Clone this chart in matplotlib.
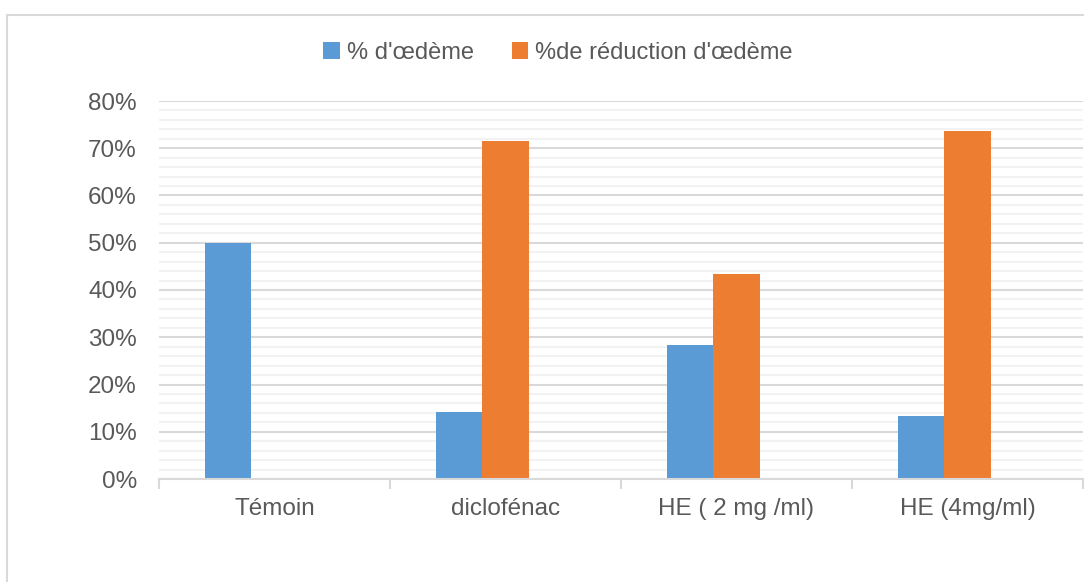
import matplotlib.pyplot as plt
from matplotlib.patches import Rectangle
from matplotlib.ticker import MultipleLocator, FuncFormatter
import numpy as np

plt.rcParams['font.family'] = ['Liberation Sans', 'DejaVu Sans']

categories = ["Témoin", "diclofénac", "HE ( 2 mg /ml)", "HE (4mg/ml)"]
oedeme = [0.50, 0.142, 0.284, 0.133]
reduction = [0.0, 0.715, 0.434, 0.737]
series_names = ["% d'œdème", "%de réduction d'œdème"]

blue = "#5b9bd5"
orange = "#ed7d31"
txt = "#595959"

fig = plt.figure(figsize=(10.84, 5.82), dpi=100)
# chart area border (runs off the right and bottom edges)
fig.patches.append(Rectangle((7 / 1084, -0.1), 1.2, 1.1 - 15 / 582,
                             transform=fig.transFigure, fill=False,
                             edgecolor="#d9d9d9", linewidth=1.5))

ax = fig.add_axes([159 / 1084, 1 - 479 / 582, (1083 - 159) / 1084, (479 - 101) / 582])

x = np.arange(len(categories))
w = 0.2
ax.bar(x - w, oedeme, width=w, color=blue, label=series_names[0], zorder=3)
ax.bar(x, reduction, width=w, color=orange, label=series_names[1], zorder=3)

ax.set_xlim(-0.5, len(categories) - 0.5)
ax.set_ylim(0, 0.8)
ax.yaxis.set_major_locator(MultipleLocator(0.1))
ax.yaxis.set_minor_locator(MultipleLocator(0.02))
ax.yaxis.set_major_formatter(FuncFormatter(lambda v, p: f"{v*100:.0f}%"))
ax.grid(axis="y", which="minor", color="#f2f2f2", linewidth=1.5, zorder=0)
ax.grid(axis="y", which="major", color="#d9d9d9", linewidth=1.5, zorder=1)

for s in ["top", "right", "left"]:
    ax.spines[s].set_visible(False)
ax.spines["bottom"].set_color("#d9d9d9")
ax.spines["bottom"].set_linewidth(1.5)
ax.spines["bottom"].set_zorder(4)

ax.set_xticks(x)
ax.set_xticklabels(categories)
ax.set_xticks(np.arange(len(categories) + 1) - 0.5, minor=True)
ax.tick_params(axis="x", which="major", length=0, labelsize=17.5, labelcolor=txt, pad=14)
ax.tick_params(axis="x", which="minor", length=7, width=1.5, color="#d9d9d9")
ax.tick_params(axis="y", which="both", length=0, labelsize=17.5, labelcolor=txt, pad=16)

fig.legend(loc="center", bbox_to_anchor=(558 / 1084, 1 - 53 / 582), ncol=2, frameon=False,
           fontsize=17, labelcolor=txt, handlelength=0.7, handleheight=0.7,
           handletextpad=0.3, columnspacing=1.6)

fig.savefig("out.png", dpi=100)
